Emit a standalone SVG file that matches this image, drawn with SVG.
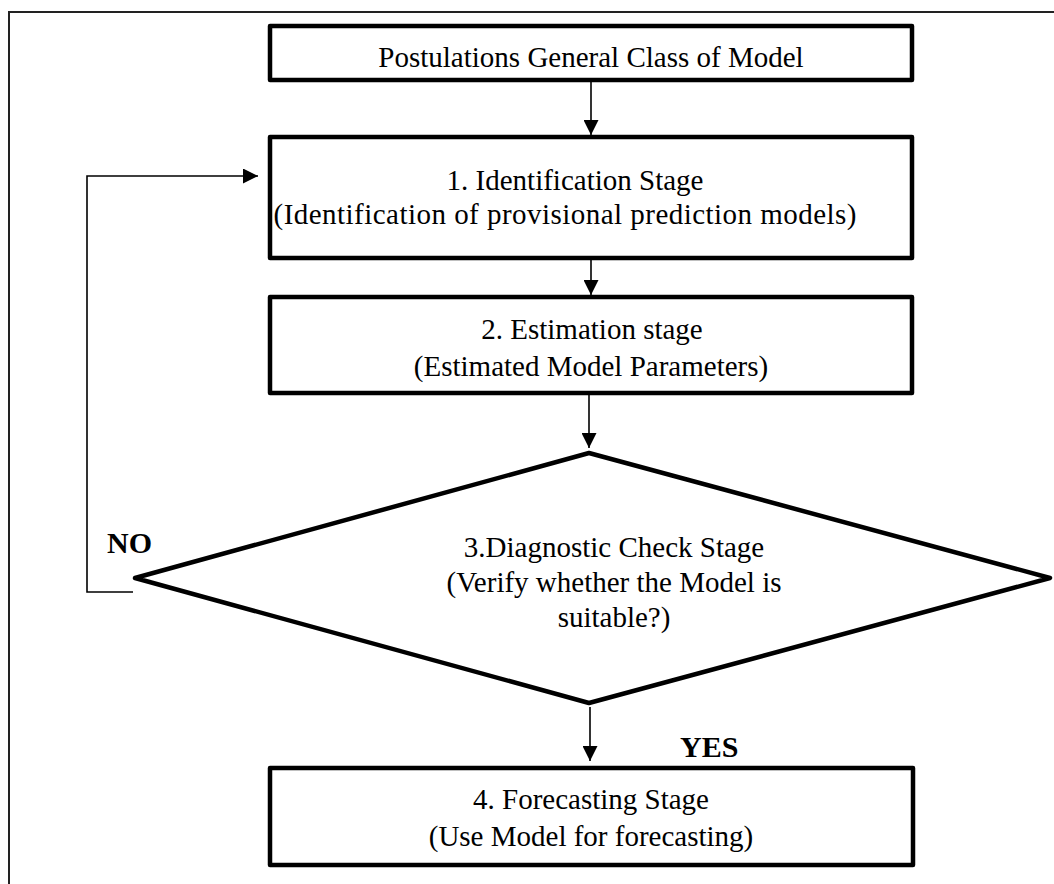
<svg xmlns="http://www.w3.org/2000/svg" width="1054" height="884" viewBox="0 0 1054 884">
<style>
.box{fill:#fff;stroke:#000;stroke-width:4.5;stroke-linejoin:round}
.t{font-family:'Liberation Serif','Times New Roman',Tinos,'DejaVu Serif',serif;font-size:29px;fill:#000;text-anchor:middle}
.b{font-family:'Liberation Serif','Times New Roman',Tinos,'DejaVu Serif',serif;font-size:30px;font-weight:bold;fill:#000}
.c{fill:none;stroke:#000;stroke-width:1.6}
</style>
<defs>
<marker id="ah" markerWidth="15" markerHeight="15" refX="15" refY="7.5" orient="auto" markerUnits="userSpaceOnUse" viewBox="0 0 15 15">
<path d="M0,0 L15,7.5 L0,15 Z" fill="#000"/>
</marker>
</defs>
<rect width="1054" height="884" fill="#fff"/>
<path d="M9,884 V12 H1054" fill="none" stroke="#222" stroke-width="2"/>
<g id="connectors">
<path class="c" d="M591,80 V135" marker-end="url(#ah)"/>
<path class="c" d="M591,258 V295" marker-end="url(#ah)"/>
<path class="c" d="M589,394 V448" marker-end="url(#ah)"/>
<path class="c" d="M590,707 V761" marker-end="url(#ah)"/>
<path class="c" d="M133,592 H87 V176 H258" marker-end="url(#ah)"/>
</g>
<g id="n0">
<rect class="box" x="270" y="26" width="642" height="54"/>
<text class="t" x="591" y="67">Postulations General Class of Model</text>
</g>
<g id="n1">
<rect class="box" x="270" y="137" width="642" height="121"/>
<text class="t" x="575" y="190">1. Identification Stage</text>
<text class="t" x="565" y="224" textLength="583" lengthAdjust="spacing">(Identification of provisional prediction models)</text>
</g>
<g id="n2">
<rect class="box" x="270" y="297" width="642" height="96"/>
<text class="t" x="592" y="339">2. Estimation stage</text>
<text class="t" x="591" y="376">(Estimated Model Parameters)</text>
</g>
<g id="n3">
<polygon class="box" points="589,453 1050,578 589,703 135,578"/>
<text class="t" x="614" y="557">3.Diagnostic Check Stage</text>
<text class="t" x="614" y="592">(Verify whether the Model is</text>
<text class="t" x="614" y="627">suitable?)</text>
</g>
<g id="n4">
<rect class="box" x="270" y="768" width="643" height="97"/>
<text class="t" x="591" y="809">4. Forecasting Stage</text>
<text class="t" x="591" y="846">(Use Model for forecasting)</text>
</g>
<text class="b" x="107" y="553">NO</text>
<text class="b" x="680" y="757">YES</text>
</svg>
